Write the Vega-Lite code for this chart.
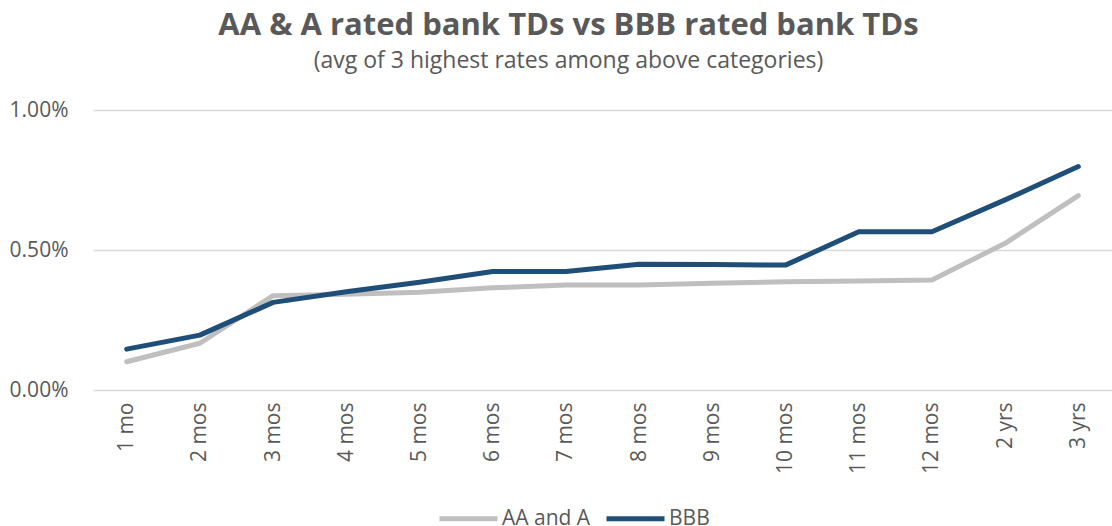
{
  "$schema": "https://vega.github.io/schema/vega-lite/v6.json",
  "autosize": {"type": "none"},
  "width": 1019,
  "height": 280,
  "padding": {"left": 93, "top": 110, "right": 0, "bottom": 136},
  "background": "white",
  "title": {
    "text": "AA & A rated bank TDs vs BBB rated bank TDs",
    "subtitle": "(avg of 3 highest rates among above categories)",
    "font": "Open Sans",
    "fontSize": 31,
    "fontWeight": "bold",
    "color": "#595959",
    "subtitleFont": "Open Sans",
    "subtitleFontSize": 23,
    "subtitleColor": "#595959",
    "subtitlePadding": 8,
    "anchor": "middle",
    "dx": -34,
    "offset": 25
  },
  "data": {
    "values": [
      {"term": "1 mo", "series": "AA and A", "rate": 0.00101},
      {"term": "2 mos", "series": "AA and A", "rate": 0.00167},
      {"term": "3 mos", "series": "AA and A", "rate": 0.00337},
      {"term": "4 mos", "series": "AA and A", "rate": 0.00342},
      {"term": "5 mos", "series": "AA and A", "rate": 0.00349},
      {"term": "6 mos", "series": "AA and A", "rate": 0.00365},
      {"term": "7 mos", "series": "AA and A", "rate": 0.00375},
      {"term": "8 mos", "series": "AA and A", "rate": 0.00375},
      {"term": "9 mos", "series": "AA and A", "rate": 0.00381},
      {"term": "10 mos", "series": "AA and A", "rate": 0.00387},
      {"term": "11 mos", "series": "AA and A", "rate": 0.00389},
      {"term": "12 mos", "series": "AA and A", "rate": 0.00393},
      {"term": "2 yrs", "series": "AA and A", "rate": 0.00524},
      {"term": "3 yrs", "series": "AA and A", "rate": 0.00694},
      {"term": "1 mo", "series": "BBB", "rate": 0.00146},
      {"term": "2 mos", "series": "BBB", "rate": 0.00196},
      {"term": "3 mos", "series": "BBB", "rate": 0.00313},
      {"term": "4 mos", "series": "BBB", "rate": 0.00351},
      {"term": "5 mos", "series": "BBB", "rate": 0.00385},
      {"term": "6 mos", "series": "BBB", "rate": 0.00423},
      {"term": "7 mos", "series": "BBB", "rate": 0.00423},
      {"term": "8 mos", "series": "BBB", "rate": 0.00449},
      {"term": "9 mos", "series": "BBB", "rate": 0.00448},
      {"term": "10 mos", "series": "BBB", "rate": 0.00446},
      {"term": "11 mos", "series": "BBB", "rate": 0.00565},
      {"term": "12 mos", "series": "BBB", "rate": 0.00565},
      {"term": "2 yrs", "series": "BBB", "rate": 0.00679},
      {"term": "3 yrs", "series": "BBB", "rate": 0.00798}
    ]
  },
  "mark": {"type": "line", "strokeWidth": 5, "strokeCap": "round", "strokeJoin": "round"},
  "encoding": {
    "x": {
      "field": "term",
      "type": "ordinal",
      "sort": null,
      "scale": {"type": "point", "padding": 0.46},
      "axis": {
        "title": null,
        "labelAngle": -90,
        "labelAlign": "right",
        "labelBaseline": "middle",
        "labelPadding": 12,
        "labelFont": "Open Sans",
        "labelFontSize": 21,
        "labelColor": "#595959",
        "ticks": false,
        "domain": false,
        "grid": false
      }
    },
    "y": {
      "field": "rate",
      "type": "quantitative",
      "scale": {"domain": [0, 0.01], "nice": false},
      "axis": {
        "title": null,
        "values": [0, 0.005, 0.01],
        "format": ".2%",
        "labelFont": "Open Sans",
        "labelFontSize": 21,
        "labelColor": "#595959",
        "labelPadding": 25,
        "ticks": false,
        "domain": false,
        "grid": true,
        "gridColor": "#d9d9d9",
        "gridWidth": 1.5
      }
    },
    "color": {
      "field": "series",
      "type": "nominal",
      "scale": {"domain": ["AA and A", "BBB"], "range": ["#bfbfbf", "#1f4e79"]},
      "legend": {
        "title": null,
        "orient": "none",
        "direction": "horizontal",
        "legendX": 344,
        "legendY": 377,
        "symbolType": "stroke",
        "symbolStrokeWidth": 5,
        "symbolSize": 3364,
        "labelFont": "Open Sans",
        "labelFontSize": 21,
        "labelColor": "#595959",
        "labelOffset": 2,
        "columnPadding": 5
      }
    }
  },
  "config": {"view": {"stroke": null}}
}
